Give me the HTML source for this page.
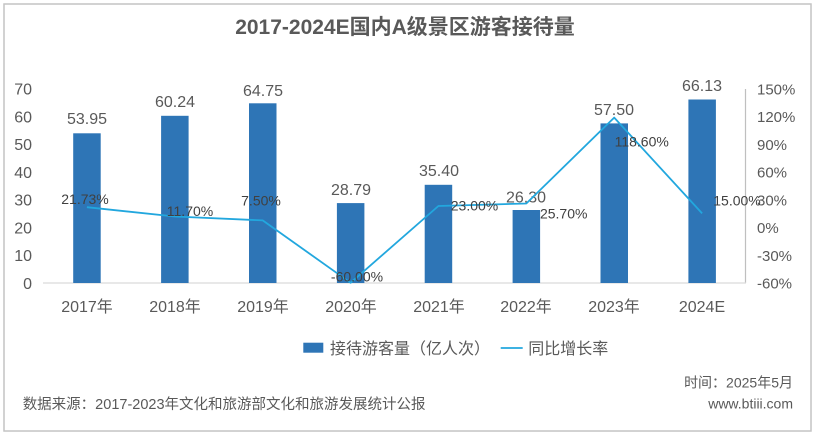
<!DOCTYPE html>
<html>
<head>
<meta charset="utf-8">
<style>
  html,body{margin:0;padding:0;background:#fff;}
  body{width:819px;height:441px;overflow:hidden;}
  svg{display:block;}
  text{font-family:"Liberation Sans","Noto Sans CJK SC",sans-serif;}
</style>
</head>
<body>
<svg width="819" height="441" viewBox="0 0 819 441" xmlns="http://www.w3.org/2000/svg">
  <rect x="0" y="0" width="819" height="441" fill="#fff"/>
  <rect x="4" y="4" width="807" height="427" fill="none" stroke="#c4c4c4" stroke-width="1.5"/>

  <!-- Title -->
  <text x="405" y="34" text-anchor="middle" font-size="21" font-weight="bold" fill="#595959">2017-2024E国内A级景区游客接待量</text>

  <!-- Left axis labels -->
  <g font-size="16" fill="#595959" text-anchor="end">
    <text x="32" y="288.8">0</text>
    <text x="32" y="261.0">10</text>
    <text x="32" y="233.3">20</text>
    <text x="32" y="205.5">30</text>
    <text x="32" y="177.8">40</text>
    <text x="32" y="150.0">50</text>
    <text x="32" y="122.3">60</text>
    <text x="32" y="94.5">70</text>
  </g>

  <!-- Right axis labels -->
  <g font-size="15" fill="#595959" text-anchor="start">
    <text x="757" y="288.5">-60%</text>
    <text x="757" y="260.8">-30%</text>
    <text x="757" y="233.0">0%</text>
    <text x="757" y="205.3">30%</text>
    <text x="757" y="177.5">60%</text>
    <text x="757" y="149.8">90%</text>
    <text x="757" y="122.0">120%</text>
    <text x="757" y="94.3">150%</text>
  </g>

  <!-- Right axis line -->
  <line x1="745.5" y1="89" x2="745.5" y2="283" stroke="#bfbfbf" stroke-width="1.2"/>
  <!-- baseline -->
  <line x1="43" y1="283" x2="746" y2="283" stroke="#d9d9d9" stroke-width="1.2"/>

  <!-- Bars -->
  <g fill="#2e75b6">
    <rect x="73.2" y="133.3" width="27.5" height="149.7"/>
    <rect x="161.1" y="115.8" width="27.5" height="167.2"/>
    <rect x="249.0" y="103.3" width="27.5" height="179.7"/>
    <rect x="336.9" y="203.1" width="27.5" height="79.9"/>
    <rect x="424.7" y="184.8" width="27.5" height="98.2"/>
    <rect x="512.6" y="210.0" width="27.5" height="73.0"/>
    <rect x="600.5" y="123.4" width="27.5" height="159.6"/>
    <rect x="688.4" y="99.5" width="27.5" height="183.5"/>
  </g>

  <!-- Bar value labels -->
  <g font-size="16" fill="#595959" text-anchor="middle">
    <text x="87" y="124.1">53.95</text>
    <text x="175" y="106.8">60.24</text>
    <text x="263" y="95.8">64.75</text>
    <text x="351" y="195.1">28.79</text>
    <text x="439" y="175.8">35.40</text>
    <text x="526" y="202.5">26.30</text>
    <text x="614" y="115.1">57.50</text>
    <text x="702" y="90.8">66.13</text>
  </g>

  <!-- Line -->
  <polyline fill="none" stroke="#22a7de" stroke-width="1.8" stroke-linejoin="round"
    points="86.9,207.2 174.8,216.5 262.7,220.4 350.6,282.8 438.4,206.0 526.3,203.5 614.2,117.6 702.1,213.4"/>

  <!-- Line labels -->
  <g font-size="14" fill="#404040" text-anchor="middle">
    <text x="85" y="204">21.73%</text>
    <text x="190" y="216">11.70%</text>
    <text x="261" y="205.7">7.50%</text>
    <text x="357" y="281.7">-60.00%</text>
    <text x="474.5" y="210.7">23.00%</text>
    <text x="563.7" y="218.3">25.70%</text>
    <text x="641.7" y="146.7">118.60%</text>
    <text x="737" y="205.7">15.00%</text>
  </g>

  <!-- X labels -->
  <g font-size="16" fill="#595959" text-anchor="middle">
    <text x="87" y="311.8">2017年</text>
    <text x="175" y="311.8">2018年</text>
    <text x="263" y="311.8">2019年</text>
    <text x="351" y="311.8">2020年</text>
    <text x="439" y="311.8">2021年</text>
    <text x="526" y="311.8">2022年</text>
    <text x="614" y="311.8">2023年</text>
    <text x="702" y="311.8">2024E</text>
  </g>

  <!-- Legend -->
  <rect x="303.3" y="342.7" width="20" height="10" fill="#2e75b6"/>
  <text x="330" y="354" font-size="16" fill="#595959">接待游客量（亿人次）</text>
  <line x1="500.7" y1="348" x2="522.7" y2="348" stroke="#22a7de" stroke-width="1.8"/>
  <text x="528.3" y="354" font-size="16" fill="#595959">同比增长率</text>

  <!-- Footer -->
  <text x="22.7" y="409" font-size="14.5" fill="#595959">数据来源：2017-2023年文化和旅游部文化和旅游发展统计公报</text>
  <text x="793" y="387.7" font-size="14" fill="#595959" text-anchor="end">时间：2025年5月</text>
  <text x="793" y="408.5" font-size="14" fill="#595959" text-anchor="end">www.btiii.com</text>
</svg>
</body>
</html>
